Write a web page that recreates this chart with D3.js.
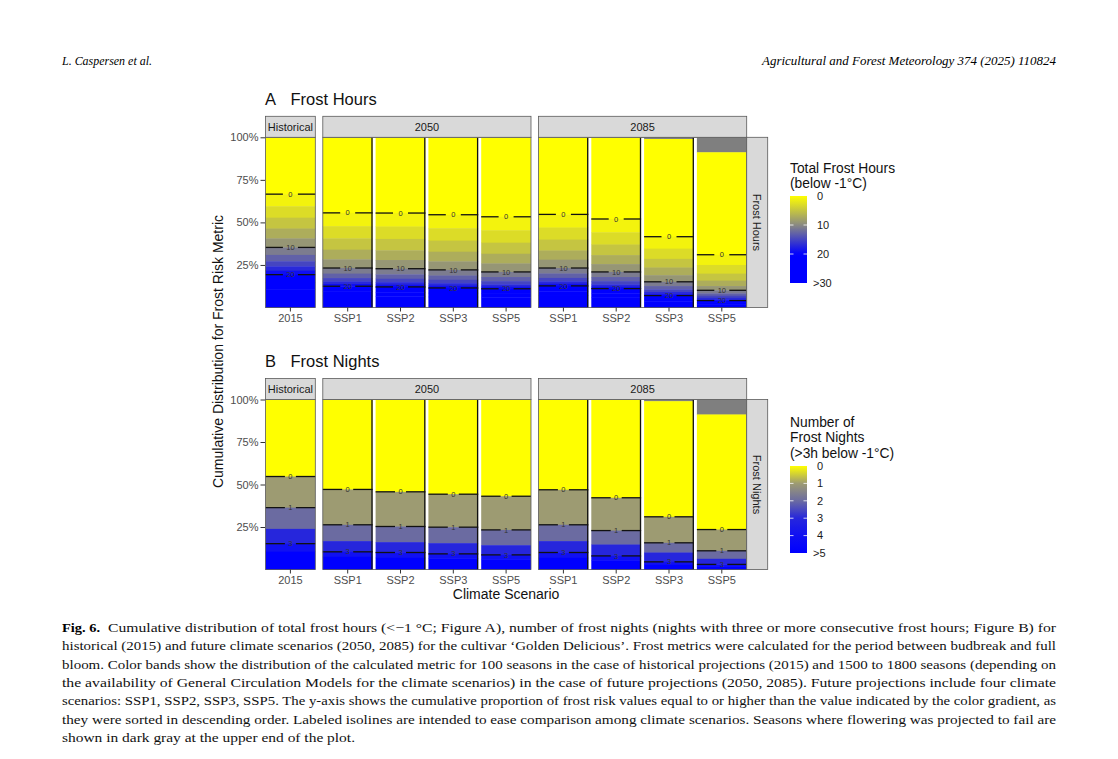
<!DOCTYPE html>
<html>
<head>
<meta charset="utf-8">
<script src="https://cdn.jsdelivr.net/npm/d3@7"></script>
<style>
  body { margin: 0; background: #fff; }
  svg text { font-family: "Liberation Sans", Arial, sans-serif; }
  .serif { font-family: "Liberation Serif", "DejaVu Serif", serif !important; }
</style>
</head>
<body>
<div id="chart"></div>
<script>
// ---- data ----
var periods = ["Historical", "2050", "2085"];
var barPeriod = ["Historical", "2050", "2050", "2050", "2050", "2085", "2085", "2085", "2085"];
var barScenario = ["2015", "SSP1", "SSP2", "SSP3", "SSP5", "SSP1", "SSP2", "SSP3", "SSP5"];

// share (%) of seasons where flowering failed (dark gray on top)
var failShare = [0, 0, 0, 0, 0, 0, 0, 1.0, 8.8];

// A: share (%) of seasons with more frost hours than each level
var hourLevels = [0, 2, 4, 6, 8, 10, 12, 14, 16, 18, 20, 25, 30];
var hourShares = [
  [66.6, 59.5, 52.8, 46.4, 40.6, 35.3, 30.9, 27.2, 24.2, 21.6, 19.3, 14.6, 10.8],
  [55.6, 47.8, 40.6, 34.0, 28.3, 23.2, 19.9, 17.3, 15.3, 13.8, 12.5, 9.4, 6.9],
  [55.5, 47.6, 40.3, 33.6, 27.9, 22.8, 19.5, 16.9, 14.9, 13.4, 12.1, 9.0, 6.6],
  [54.5, 46.6, 39.3, 32.8, 27.1, 22.1, 18.8, 16.3, 14.3, 12.8, 11.5, 8.6, 6.3],
  [53.3, 45.4, 38.1, 31.6, 25.9, 20.9, 17.9, 15.5, 13.6, 12.2, 11.0, 8.2, 6.0],
  [54.7, 47.0, 39.9, 33.5, 28.1, 23.2, 20.0, 17.4, 15.4, 13.9, 12.7, 9.5, 7.0],
  [52.0, 44.2, 37.0, 30.8, 25.5, 20.9, 17.9, 15.5, 13.6, 12.2, 11.1, 8.3, 6.1],
  [41.6, 34.6, 28.6, 23.5, 19.0, 15.1, 12.6, 10.7, 9.1, 7.9, 7.0, 5.1, 3.7],
  [31.0, 25.0, 19.9, 15.8, 12.6, 10.1, 8.3, 6.9, 5.7, 4.8, 4.1, 2.9, 2.0]
];
var hourIsolines = [0, 10, 20];
var hourLegendTicks = [0, 10, 20, 30];
var hourLegendLabels = ["0", "10", "20", ">30"];

// B: share (%) of seasons with more frost nights than each level
var nightLevels = [0, 1, 2, 3, 4];
var nightShares = [
  [54.7, 36.4, 23.9, 15.2, 10.5],
  [47.1, 26.3, 16.7, 10.4, 7.5],
  [45.7, 25.3, 16.1, 10.0, 6.9],
  [44.3, 24.9, 15.5, 9.2, 6.5],
  [43.1, 23.3, 14.3, 8.6, 5.9],
  [46.9, 26.3, 16.7, 10.0, 6.9],
  [42.2, 22.9, 14.7, 8.0, 5.3],
  [31.0, 15.7, 10.0, 4.5, 2.9],
  [23.5, 11.0, 6.3, 3.0, 2.0]
];
var nightIsolines = [0, 1, 3];
var nightLegendTicks = [0, 1, 2, 3, 4, 5];
var nightLegendLabels = ["0", "1", "2", "3", "4", ">5"];

var captionLines = [
  "Cumulative distribution of total frost hours (<\u22121 \u00b0C; Figure A), number of frost nights (nights with three or more consecutive frost hours; Figure B) for",
  "historical (2015) and future climate scenarios (2050, 2085) for the cultivar \u2018Golden Delicious\u2019. Frost metrics were calculated for the period between budbreak and full",
  "bloom. Color bands show the distribution of the calculated metric for 100 seasons in the case of historical projections (2015) and 1500 to 1800 seasons (depending on",
  "the availability of General Circulation Models for the climate scenarios) in the case of future projections (2050, 2085). Future projections include four climate",
  "scenarios: SSP1, SSP2, SSP3, SSP5. The y-axis shows the cumulative proportion of frost risk values equal to or higher than the value indicated by the color gradient, as",
  "they were sorted in descending order. Labeled isolines are intended to ease comparison among climate scenarios. Seasons where flowering was projected to fail are",
  "shown in dark gray at the upper end of the plot."
];

// ---- colours ----
var hourColor = d3.scaleLinear()
    .domain([0, 10, 20, 30])
    .range(["#ffff00", "#8a8a82", "#0000ff", "#0000ff"])
    .clamp(true);
var nightColor = d3.scaleLinear()
    .domain([0, 1, 2, 3, 4, 5])
    .range(["#ffff00", "#9d9b72", "#6b6ba1", "#2626dc", "#1010f2", "#0000ff"])
    .clamp(true);

var W = 1118, H = 759;
var svg = d3.select("#chart").append("svg")
    .attr("width", W)
    .attr("height", H);

// header
svg.append("text").attr("class", "serif")
    .attr("x", 62).attr("y", 65)
    .style("font-style", "italic").style("font-size", "11.5px")
    .attr("textLength", 90).attr("lengthAdjust", "spacingAndGlyphs")
    .text("L. Caspersen et al.");
svg.append("text").attr("class", "serif")
    .attr("x", 1056).attr("y", 65)
    .attr("text-anchor", "end")
    .style("font-style", "italic").style("font-size", "11.5px")
    .attr("textLength", 294).attr("lengthAdjust", "spacingAndGlyphs")
    .text("Agricultural and Forest Meteorology 374 (2025) 110824");

// ---- panel layout ----
var barW = 49.8, barGap = 3, panelGap = 7.5, plotLeft = 265.5, stripH = 21, stripW = 21;
var panels = [];
var cursor = plotLeft;
periods.forEach(function(p) {
  var idx = d3.range(barPeriod.length).filter(function(i) { return barPeriod[i] === p; });
  var w = idx.length * barW + (idx.length - 1) * barGap;
  var x = d3.scaleBand()
      .domain(idx)
      .range([0, w])
      .paddingInner(idx.length > 1 ? barGap / (barW + barGap) : 0)
      .paddingOuter(0);
  panels.push({ period: p, idx: idx, x0: cursor, w: w, x: x });
  cursor += w + panelGap;
});
var plotRight = cursor - panelGap;

function drawFacet(cfg) {
  var y = d3.scaleLinear().domain([0, 100]).range([cfg.yBot, cfg.yTop]);
  var g = svg.append("g");

  // title
  g.append("text").attr("x", 265).attr("y", cfg.titleY)
      .style("font-size", "16.5px").attr("fill", "#111").text(cfg.letter);
  g.append("text").attr("x", 290.5).attr("y", cfg.titleY)
      .style("font-size", "16.5px").attr("fill", "#111").text(cfg.title);

  panels.forEach(function(pn) {
    var pg = g.append("g").attr("transform", "translate(" + pn.x0 + ",0)");

    pn.idx.forEach(function(i, j) {
      var bx = pn.x(i), bw = pn.x.bandwidth();
      var shares = cfg.shares[i];
      var top = 100 - failShare[i];
      var rows = [];
      // failed seasons
      if (failShare[i] > 0) rows.push({ lo: top, hi: 100, fill: "#7f7f7f" });
      // no-frost seasons
      rows.push({ lo: shares[0], hi: top, fill: cfg.color(cfg.levels[0]) });
      for (var k = 0; k < cfg.levels.length - 1; k++) {
        rows.push({ lo: shares[k + 1], hi: shares[k],
                    fill: cfg.color(cfg.bandValue(cfg.levels[k], cfg.levels[k + 1])) });
      }
      rows.push({ lo: 0, hi: shares[shares.length - 1], fill: cfg.color(cfg.maxValue) });

      pg.selectAll(null).data(rows).enter().append("rect")
          .attr("x", bx)
          .attr("width", bw)
          .attr("y", function(d) { return y(d.hi); })
          .attr("height", function(d) { return Math.max(0, y(d.lo) - y(d.hi)) + 0.4; })
          .attr("fill", function(d) { return d.fill; });

      // isolines with labels
      var cx = bx + bw / 2, gapHalf = cfg.labelGap / 2;
      cfg.isolines.forEach(function(L) {
        var s = shares[cfg.levels.indexOf(L)];
        var yy = y(s);
        pg.append("line").attr("x1", bx).attr("x2", cx - gapHalf)
            .attr("y1", yy).attr("y2", yy)
            .attr("stroke", "#111").attr("stroke-width", 1.3);
        pg.append("line").attr("x1", cx + gapHalf).attr("x2", bx + bw)
            .attr("y1", yy).attr("y2", yy)
            .attr("stroke", "#111").attr("stroke-width", 1.3);
        pg.append("text").attr("x", cx).attr("y", yy).attr("dy", "0.35em")
            .attr("text-anchor", "middle")
            .style("font-size", "7.5px").attr("fill", "#333")
            .text(L);
      });

      // dark edge between neighbouring bars
      if (j < pn.idx.length - 1) {
        pg.append("line").attr("x1", bx + bw - 0.6).attr("x2", bx + bw - 0.6)
            .attr("y1", y(100)).attr("y2", y(0))
            .attr("stroke", "#111").attr("stroke-width", 1.3);
      }
    });

    // panel border
    pg.append("rect").attr("x", 0).attr("y", cfg.yTop).attr("width", pn.w)
        .attr("height", cfg.yBot - cfg.yTop)
        .attr("fill", "none").attr("stroke", "#5a5a5a").attr("stroke-width", 0.8);

    // strip on top
    pg.append("rect").attr("x", 0).attr("y", cfg.yTop - stripH).attr("width", pn.w)
        .attr("height", stripH)
        .attr("fill", "#d9d9d9").attr("stroke", "#5a5a5a").attr("stroke-width", 0.8);
    pg.append("text").attr("x", pn.w / 2).attr("y", cfg.yTop - stripH / 2).attr("dy", "0.35em")
        .attr("text-anchor", "middle").style("font-size", "11px").attr("fill", "#1a1a1a")
        .text(pn.period);

    // x axis
    var xAxis = d3.axisBottom(pn.x)
        .tickSize(4)
        .tickPadding(3)
        .tickFormat(function(i) { return barScenario[i]; });
    var ax = pg.append("g").attr("transform", "translate(0," + cfg.yBot + ")").call(xAxis);
    ax.select(".domain").remove();
    ax.selectAll("line").attr("stroke", "#333");
    ax.selectAll("text").style("font-size", "11px").attr("fill", "#4d4d4d");
  });

  // right strip
  g.append("rect").attr("x", plotRight).attr("y", cfg.yTop).attr("width", stripW)
      .attr("height", cfg.yBot - cfg.yTop)
      .attr("fill", "#d9d9d9").attr("stroke", "#5a5a5a").attr("stroke-width", 0.8);
  g.append("text")
      .attr("transform", "translate(" + (plotRight + stripW / 2) + "," + ((cfg.yTop + cfg.yBot) / 2) + ") rotate(90)")
      .attr("dy", "0.35em").attr("text-anchor", "middle")
      .style("font-size", "11px").attr("fill", "#1a1a1a")
      .text(cfg.stripLabel);

  // y axis
  var yAxis = d3.axisLeft(y)
      .tickValues([25, 50, 75, 100])
      .tickSize(4.5)
      .tickPadding(2)
      .tickFormat(function(d) { return d + "%"; });
  var ay = g.append("g").attr("transform", "translate(" + (plotLeft - 0.5) + ",0)").call(yAxis);
  ay.select(".domain").remove();
  ay.selectAll("line").attr("stroke", "#333");
  ay.selectAll("text").style("font-size", "11px").attr("fill", "#4d4d4d");

  // colour bar legend
  var lg = cfg.legend;
  var ly = d3.scaleLinear().domain([lg.ticks[0], lg.ticks[lg.ticks.length - 1]]).range([lg.top, lg.bot]);
  var gradId = "grad" + cfg.letter;
  var grad = svg.append("defs").append("linearGradient").attr("id", gradId)
      .attr("x1", 0).attr("x2", 0).attr("y1", 0).attr("y2", 1);
  d3.range(0, 1.0001, 0.05).forEach(function(t) {
    grad.append("stop").attr("offset", t)
        .attr("stop-color", cfg.color(ly.domain()[0] + t * (ly.domain()[1] - ly.domain()[0])));
  });
  lg.title.forEach(function(line, k) {
    g.append("text").attr("x", 790).attr("y", lg.titleY + k * 15.3)
        .style("font-size", "13.8px").attr("fill", "#111").text(line);
  });
  g.append("rect").attr("x", 790).attr("y", lg.top).attr("width", 17).attr("height", lg.bot - lg.top)
      .attr("fill", "url(#" + gradId + ")");
  lg.ticks.forEach(function(t, k) {
    if (k > 0 && k < lg.ticks.length - 1) {
      g.append("line").attr("x1", 790).attr("x2", 793.5).attr("y1", ly(t)).attr("y2", ly(t))
          .attr("stroke", "#fff").attr("stroke-width", 0.8);
      g.append("line").attr("x1", 803.5).attr("x2", 807).attr("y1", ly(t)).attr("y2", ly(t))
          .attr("stroke", "#fff").attr("stroke-width", 0.8);
    }
    g.append("text").attr("x", lg.labels[k].charAt(0) === ">" ? 813 : 817).attr("y", ly(t)).attr("dy", "0.35em")
        .style("font-size", "11px").attr("fill", "#1a1a1a").text(lg.labels[k]);
  });
}

drawFacet({
  letter: "A", title: "Frost Hours", titleY: 105, stripLabel: "Frost Hours",
  yTop: 137.3, yBot: 307.5,
  levels: hourLevels, shares: hourShares, isolines: hourIsolines,
  color: hourColor, maxValue: 30, labelGap: 15,
  bandValue: function(lo, hi) { return (lo + hi) / 2; },
  legend: { title: ["Total Frost Hours", "(below -1\u00b0C)"], titleY: 172.5,
            top: 196, bot: 283, ticks: hourLegendTicks, labels: hourLegendLabels }
});

drawFacet({
  letter: "B", title: "Frost Nights", titleY: 367, stripLabel: "Frost Nights",
  yTop: 399.5, yBot: 569.5,
  levels: nightLevels, shares: nightShares, isolines: nightIsolines,
  color: nightColor, maxValue: 5, labelGap: 11,
  bandValue: function(lo, hi) { return hi; },
  legend: { title: ["Number of", "Frost Nights", "(>3h below -1\u00b0C)"], titleY: 427,
            top: 466, bot: 553, ticks: nightLegendTicks, labels: nightLegendLabels }
});

// shared axis titles
svg.append("text")
    .attr("transform", "translate(218.5,351.5) rotate(-90)")
    .attr("dy", "0.35em").attr("text-anchor", "middle")
    .style("font-size", "14px").attr("fill", "#111")
    .text("Cumulative Distribution for Frost Risk Metric");
svg.append("text")
    .attr("x", (plotLeft + plotRight) / 2).attr("y", 599)
    .attr("text-anchor", "middle")
    .style("font-size", "14px").attr("fill", "#111")
    .text("Climate Scenario");

// caption
var capTop = 632, capStep = 18.3;
svg.append("text").attr("class", "serif")
    .attr("x", 62).attr("y", capTop)
    .style("font-size", "13px").style("font-weight", "bold")
    .attr("textLength", 38).attr("lengthAdjust", "spacingAndGlyphs")
    .text("Fig. 6.");
captionLines.forEach(function(line, k) {
  var x0 = k === 0 ? 108 : 62;
  var len = k < captionLines.length - 1 ? 1056 - x0 : 293;
  svg.append("text").attr("class", "serif")
      .attr("x", x0).attr("y", capTop + k * capStep)
      .style("font-size", "13px").attr("fill", "#111")
      .attr("textLength", len).attr("lengthAdjust", "spacingAndGlyphs")
      .text(line);
});
</script>
</body>
</html>
